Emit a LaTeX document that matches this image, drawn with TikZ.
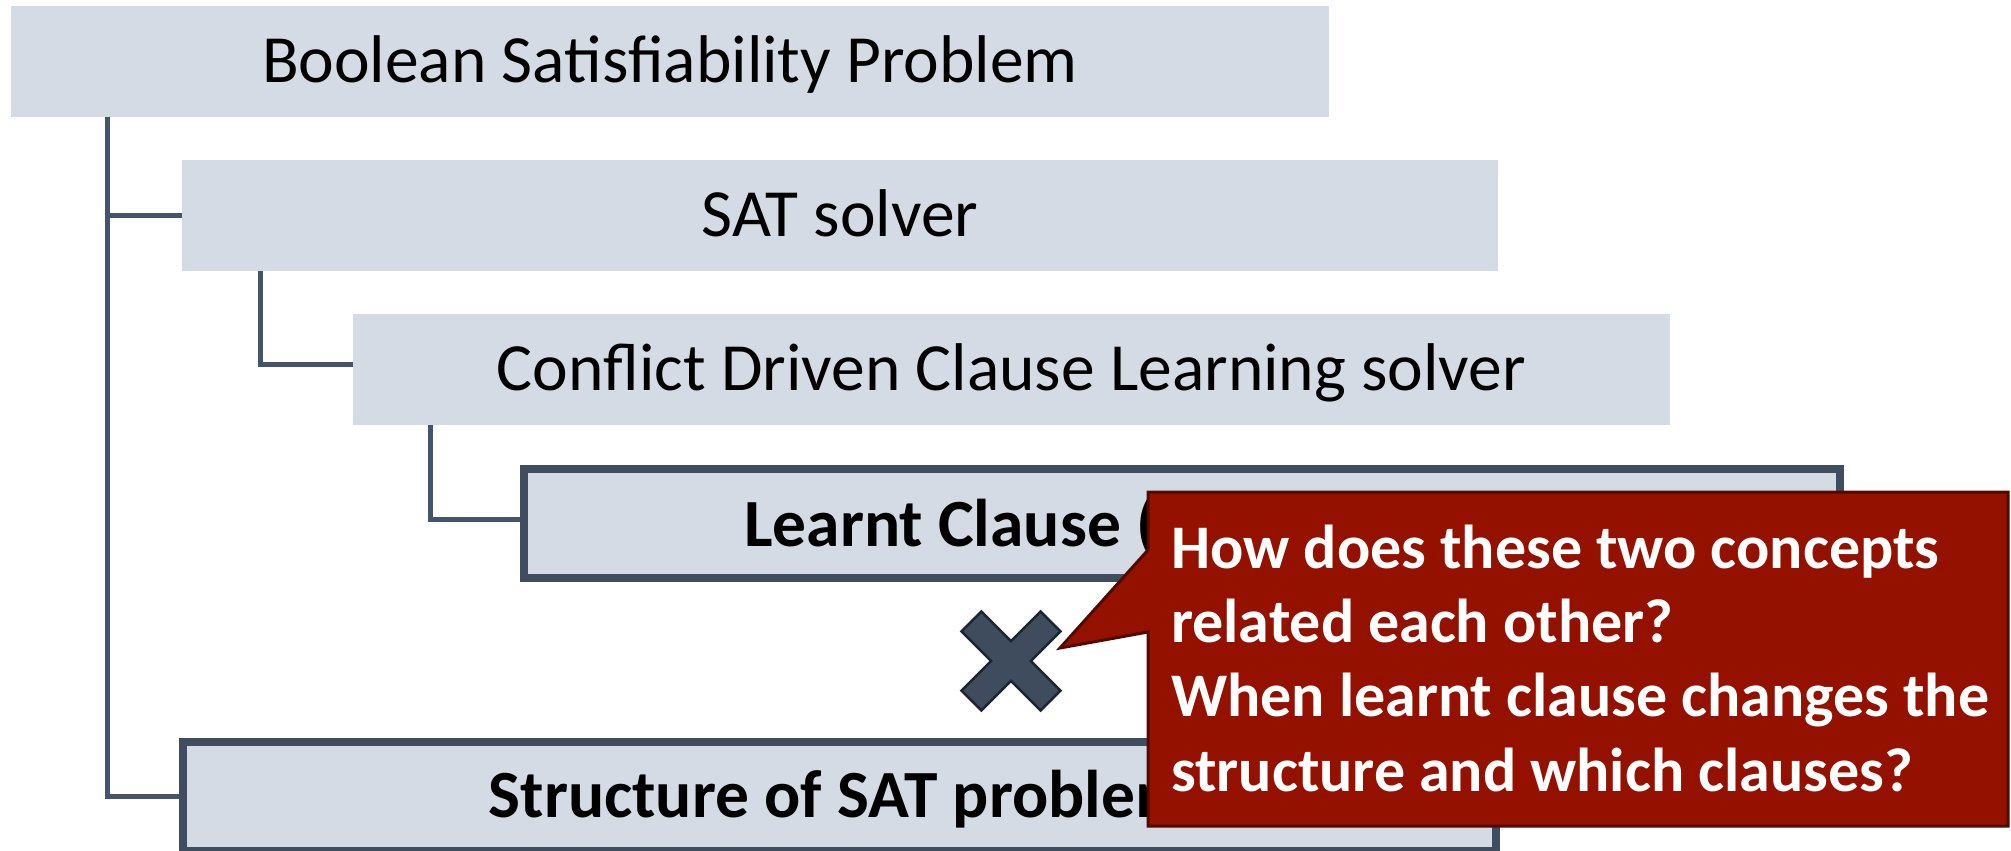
\documentclass[tikz,border=0pt]{standalone}
\usepackage{fontspec}
\setmainfont{Carlito}
\definecolor{boxfill}{HTML}{D5DBE4}
\definecolor{slate}{HTML}{44546A}
\definecolor{darkslate}{HTML}{3F4D5F}
\definecolor{calloutred}{HTML}{941100}
\definecolor{calloutedge}{HTML}{520A00}
\definecolor{crossfill}{HTML}{3E4C5E}
\definecolor{crossedge}{HTML}{1C2530}
\begin{document}
\begin{tikzpicture}[x=1pt,y=-1pt,
  level/.style={fill=boxfill, inner sep=0pt, minimum width=1318pt, minimum height=111pt,
    text height=42.5pt, text depth=0pt, font=\fontsize{67.5}{80}\selectfont},
  focus/.style={level, draw=darkslate, line width=8pt, minimum width=1316pt, minimum height=109pt,
    font=\bfseries\fontsize{67.5}{80}\selectfont},
  link/.style={draw=slate, line width=5pt}]
\useasboundingbox (0,0) rectangle (2011,851);

% hierarchy boxes
\node[level] (b1) at (670,61.5) {Boolean Satisfiability Problem};
\node[level, minimum width=1316pt] (b2) at (840,215.5) {SAT solver};
\node[level, minimum width=1317pt] (b3) at (1011.5,369.5) {Conflict Driven Clause Learning solver};
\node[focus] (b4) at (1182,523.5) {};
\node[anchor=base west, inner sep=0pt, font=\bfseries\fontsize{67.5}{80}\selectfont] (b4text) at (744,546) {Learnt Clause (};
\node[focus, minimum width=1313pt] (b5) at (839.5,796.5) {Structure of SAT problem};

% tree connectors
\draw[link] ([xshift=96.5pt]b1.south west) |- (b2.west);
\draw[link] ([xshift=96.5pt]b1.south west) |- (b5.west);
\draw[link] ([xshift=78.5pt]b2.south west) |- ([yshift=5pt]b3.west);
\draw[link] ([xshift=78pt]b3.south west) |- ([yshift=4.5pt]b4.west);

% cross mark between the two concepts
\begin{scope}[shift={(1011,661)}, rotate=45]
  \filldraw[fill=crossfill, draw=crossedge, line width=2.5pt, line join=miter]
    (-14,56) -- (14,56) -- (14,14) -- (56,14) -- (56,-14) -- (14,-14) -- (14,-56)
    -- (-14,-56) -- (-14,-14) -- (-56,-14) -- (-56,14) -- (-14,14) -- cycle;
\end{scope}

% question callout
\coordinate (tip) at (1060,648);
\filldraw[fill=calloutred, draw=calloutedge, line width=3pt, line join=miter]
  (1148,492) -- (2008,492) -- (2008,826) -- (1148,826) -- (1148,632) -- (tip) -- (1148,550) -- cycle;
\node[anchor=base west, align=left, text=white, inner sep=0pt,
  font=\bfseries\fontsize{62}{74.3}\selectfont] (q) at (1171,791)
  {How does these two concepts\\related each other?\\When learnt clause changes the\\structure and which clauses?};
\end{tikzpicture}
\end{document}
